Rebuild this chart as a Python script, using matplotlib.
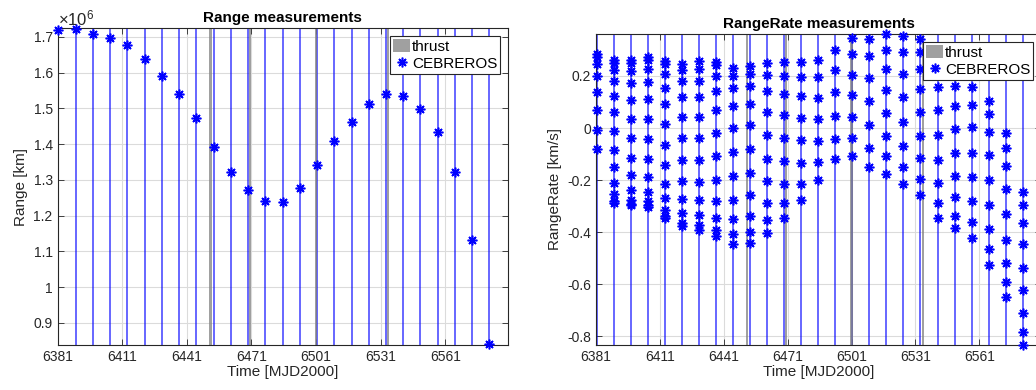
import numpy as np
import matplotlib
matplotlib.use('Agg')
import matplotlib.pyplot as plt
from matplotlib.ticker import FuncFormatter

plt.rcParams['font.family'] = ['Liberation Sans', 'DejaVu Sans']
plt.rcParams['mathtext.fontset'] = 'custom'
plt.rcParams['mathtext.rm'] = 'Liberation Sans'
plt.rcParams['mathtext.it'] = 'Liberation Sans:italic'

# pass epochs [MJD2000], one CEBREROS pass every 8 days
pass_days = [6381.4, 6389.4, 6397.4, 6405.4, 6413.4, 6421.4, 6429.4, 6437.4,
             6445.4, 6453.4, 6461.4, 6469.4, 6477.4, 6485.4, 6493.4, 6501.4,
             6509.4, 6517.4, 6525.4, 6533.4, 6541.4, 6549.4, 6557.4, 6565.4,
             6573.4, 6581.4]

# range [km], one value per pass
range_km = [1.720e6, 1.722e6, 1.708e6, 1.696e6, 1.678e6, 1.638e6, 1.591e6,
            1.541e6, 1.473e6, 1.393e6, 1.323e6, 1.272e6, 1.242e6, 1.239e6,
            1.277e6, 1.342e6, 1.408e6, 1.461e6, 1.512e6, 1.541e6, 1.534e6,
            1.499e6, 1.435e6, 1.322e6, 1.132e6, 0.840e6]

# range rate [km/s], several samples per pass
rangerate_kms = [
    [0.283, 0.273, 0.247, 0.200, 0.138, 0.068, -0.006, -0.079],
    [0.260, 0.251, 0.222, 0.181, 0.123, 0.060, -0.013, -0.083, -0.151, -0.210, -0.253, -0.281, -0.288],
    [0.263, 0.251, 0.218, 0.172, 0.109, 0.036, -0.038, -0.114, -0.181, -0.237, -0.276, -0.291, -0.297],
    [0.273, 0.263, 0.226, 0.177, 0.110, 0.036, -0.042, -0.118, -0.188, -0.244, -0.281, -0.294, -0.304],
    [0.256, 0.247, 0.206, 0.154, 0.091, 0.017, -0.064, -0.141, -0.213, -0.268, -0.313, -0.338, -0.346],
    [0.244, 0.224, 0.179, 0.118, 0.042, -0.038, -0.124, -0.204, -0.274, -0.328, -0.365, -0.377],
    [0.258, 0.228, 0.181, 0.121, 0.042, -0.038, -0.124, -0.206, -0.277, -0.333, -0.374, -0.390],
    [0.254, 0.241, 0.200, 0.144, 0.068, -0.019, -0.109, -0.200, -0.279, -0.346, -0.391, -0.413],
    [0.232, 0.201, 0.155, 0.083, 0.001, -0.092, -0.186, -0.276, -0.350, -0.408, -0.445],
    [0.238, 0.209, 0.160, 0.094, 0.012, -0.079, -0.172, -0.259, -0.337, -0.399, -0.440],
    [0.250, 0.203, 0.142, 0.062, -0.026, -0.118, -0.205, -0.287, -0.355, -0.403],
    [0.254, 0.199, 0.132, 0.051, -0.037, -0.127, -0.214, -0.288, -0.346],
    [0.254, 0.196, 0.123, 0.040, -0.047, -0.135, -0.214, -0.278],
    [0.260, 0.194, 0.117, 0.033, -0.051, -0.132, -0.200],
    [0.301, 0.224, 0.138, 0.046, -0.041, -0.117],
    [0.347, 0.283, 0.205, 0.127, 0.042, -0.038, -0.109],
    [0.341, 0.276, 0.192, 0.103, 0.010, -0.077, -0.150],
    [0.360, 0.301, 0.228, 0.145, 0.058, -0.032, -0.109, -0.178],
    [0.353, 0.290, 0.209, 0.119, 0.024, -0.068, -0.151, -0.215],
    [0.340, 0.290, 0.226, 0.150, 0.063, -0.032, -0.115, -0.197, -0.258],
    [0.238, 0.158, 0.068, -0.026, -0.122, -0.212, -0.288, -0.345],
    [0.243, 0.162, 0.083, -0.003, -0.096, -0.186, -0.265, -0.336, -0.385],
    [0.238, 0.158, 0.090, 0.003, -0.094, -0.188, -0.282, -0.362, -0.422],
    [0.104, 0.053, -0.017, -0.105, -0.201, -0.297, -0.388, -0.465, -0.526],
    [-0.019, -0.076, -0.147, -0.236, -0.329, -0.428, -0.517, -0.591, -0.647],
    [-0.245, -0.294, -0.364, -0.445, -0.536, -0.621, -0.709, -0.782, -0.832],
]

# thrust arcs [MJD2000]
thrust_start = [6451.5, 6469.9, 6500.5, 6533.9]
thrust_end = [6452.5, 6470.9, 6501.5, 6534.9]

x_ticks = [6381, 6411, 6441, 6471, 6501, 6531, 6561]
range_ticks = [0.9e6, 1.0e6, 1.1e6, 1.2e6, 1.3e6, 1.4e6, 1.5e6, 1.6e6, 1.7e6]
rate_ticks = [-0.8, -0.6, -0.4, -0.2, 0.0, 0.2]

dark = (0.15, 0.15, 0.15)
star = (8, 2, 0)


def style_axes(ax):
    ax.set_xlim(6381, 6590)
    ax.set_xticks(x_ticks)
    ax.grid(True, color=(0.86, 0.86, 0.86), linewidth=0.8, zorder=0)
    ax.set_axisbelow(True)
    ax.tick_params(direction='in', top=True, right=True, length=4,
                   width=0.6, color=dark, labelcolor=dark, labelsize=10)
    for s in ax.spines.values():
        s.set_color(dark)
        s.set_linewidth(0.8)
    ax.set_xlabel('Time [MJD2000]', fontsize=11, color=dark, labelpad=1)


def draw_background(ax):
    for t in pass_days:
        ax.axvline(t, color='blue', alpha=0.6, linewidth=1.4, zorder=1)
    for i, (a, b) in enumerate(zip(thrust_start, thrust_end)):
        ax.axvspan(a, b, color=(0.5, 0.5, 0.5), alpha=0.75, linewidth=0,
                   zorder=1.5, label='thrust' if i == 0 else None)


def add_legend(ax):
    leg = ax.legend(loc='upper right', fontsize=11, frameon=True, fancybox=False,
                    framealpha=1, edgecolor=dark, borderpad=0.2,
                    handlelength=1.15, handleheight=0.95, handletextpad=0.1,
                    labelspacing=0.15, borderaxespad=0.5)
    leg.get_frame().set_linewidth(0.8)
    leg.set_zorder(10)


fig = plt.figure(figsize=(10.36, 3.9), dpi=100)
ax1 = fig.add_axes([57.5 / 1036, 45 / 390, 450.5 / 1036, 317 / 390])
ax2 = fig.add_axes([596 / 1036, 45 / 390, 445 / 1036, 311 / 390])

# left: range
draw_background(ax1)
ax1.plot(pass_days, range_km, linestyle='none', marker=star, markersize=7,
         markeredgewidth=1.15, color='blue', label='CEBREROS', zorder=3,
         clip_on=False)
style_axes(ax1)
ax1.set_ylim(0.838e6, 1.725e6)
ax1.set_yticks(range_ticks)
ax1.yaxis.set_major_formatter(FuncFormatter(lambda v, p: f'{v / 1e6:g}'))
ax1.set_ylabel('Range [km]', fontsize=11, color=dark, labelpad=4)
ax1.set_title('Range measurements', fontsize=11, fontweight='bold', pad=4)
ax1.text(0.0, 1.0, r'$\times10^{6}$', transform=ax1.transAxes, fontsize=12,
         color=dark, ha='left', va='bottom')
add_legend(ax1)

# right: range rate
draw_background(ax2)
rr_x = [t for t, vals in zip(pass_days, rangerate_kms) for _ in vals]
rr_y = [v for vals in rangerate_kms for v in vals]
ax2.plot(rr_x, rr_y, linestyle='none', marker=star, markersize=7,
         markeredgewidth=1.15, color='blue', label='CEBREROS', zorder=3,
         clip_on=False)
style_axes(ax2)
ax2.set_ylim(-0.833, 0.361)
ax2.set_yticks(rate_ticks)
ax2.yaxis.set_major_formatter(FuncFormatter(lambda v, p: f'{v:g}'))
ax2.set_ylabel('RangeRate [km/s]', fontsize=11, color=dark, labelpad=4)
ax2.set_title('RangeRate measurements', fontsize=11, fontweight='bold', pad=4)
add_legend(ax2)

fig.savefig('out.png', dpi=100)
